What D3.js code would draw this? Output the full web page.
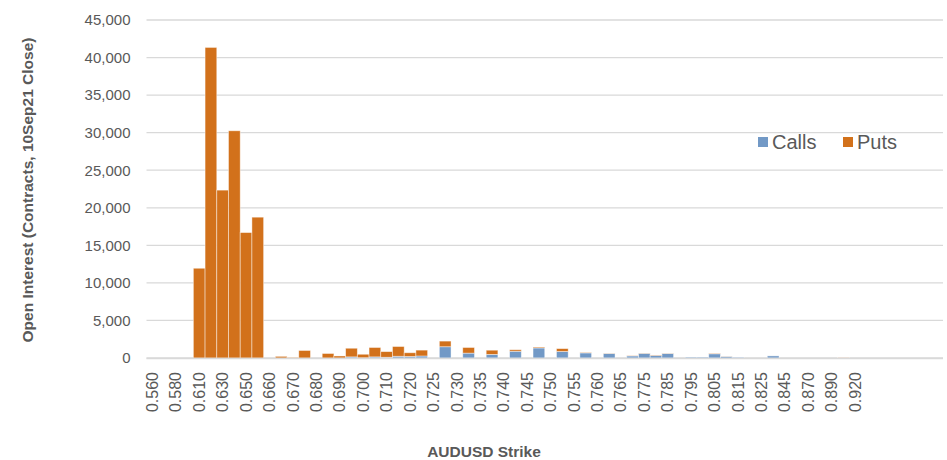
<!DOCTYPE html>
<html><head><meta charset="utf-8">
<script src="https://cdn.jsdelivr.net/npm/d3@7"></script>
<style>body{margin:0;background:#fff}svg{display:block;font-family:"Liberation Sans",Arial,sans-serif}</style>
</head><body><svg id="c" width="947" height="460"></svg>
<script>
const strikes = ["0.560","0.570","0.580","0.600","0.610","0.620","0.630","0.640","0.650","0.655",
 "0.660","0.665","0.670","0.675","0.680","0.685","0.690","0.695","0.700","0.705",
 "0.710","0.715","0.720","0.7225","0.725","0.7275","0.730","0.7325","0.735","0.7375",
 "0.740","0.7425","0.745","0.7475","0.750","0.7525","0.755","0.7575","0.760","0.7625",
 "0.765","0.770","0.775","0.780","0.785","0.790","0.795","0.800","0.805","0.810",
 "0.815","0.820","0.825","0.835","0.845","0.860","0.870","0.880","0.890","0.900",
 "0.920","","","","","","",""];
const calls = [0,0,0,0,0,0,0,0,0,0,
 0,0,0,0,0,0,0,150,30,150,
 100,230,200,270,0,1500,0,650,0,480,
 0,900,0,1340,0,870,0,680,0,600,
 0,280,620,350,600,0,120,120,560,210,
 100,0,0,280,0,0,0,0,0,50,
 0,0,0,0,0,0,0,0];
const puts = [0,0,0,0,11950,41350,22350,30250,16700,18750,
 0,220,70,1000,0,600,270,1150,470,1250,
 750,1300,500,780,0,750,0,750,0,560,
 0,200,0,120,0,380,0,60,0,30,
 0,40,30,50,30,0,0,0,60,20,
 0,0,0,0,0,0,0,0,0,40,
 0,0,0,0,0,0,0,0];
const seriesNames = ["Calls","Puts"];
const colors = ["#7299C6","#D2711B"];
const yTicks = [0,5000,10000,15000,20000,25000,30000,35000,40000,45000];

const svg = d3.select("#c");
const L = 146.5, R = 943, T = 20, B = 358;
const x = d3.scaleBand().domain(d3.range(strikes.length)).range([L, R]).padding(0);
const y = d3.scaleLinear().domain([0, 45000]).range([B, T]);

// gridlines
svg.append("g").selectAll("line").data(yTicks).join("line")
  .attr("x1", L).attr("x2", R)
  .attr("y1", d => y(d)).attr("y2", d => y(d))
  .attr("stroke", "#d9d9d9").attr("stroke-width", 1.3);

// y axis labels
const yAxis = svg.append("g").attr("transform", `translate(${L},0)`)
  .call(d3.axisLeft(y).tickValues(yTicks).tickSize(0).tickPadding(16).tickFormat(d3.format(",")));
yAxis.select(".domain").remove();
yAxis.selectAll("text").attr("fill", "#595959").style("font-size", "15px").style("font-family", '"Liberation Sans",Arial,sans-serif');

// stacked bars
const rows = strikes.map((s, i) => ({i, Calls: calls[i], Puts: puts[i]}));
const stacked = d3.stack().keys(seriesNames)(rows);
svg.append("g").selectAll("g").data(stacked).join("g")
  .attr("fill", (d, k) => colors[k])
  .selectAll("rect").data(d => d).join("rect")
  .attr("x", d => x(d.data.i))
  .attr("width", x.bandwidth())
  .attr("y", d => y(d[1]))
  .attr("height", d => Math.max(0, y(d[0]) - y(d[1])))
  .attr("stroke", "#fff").attr("stroke-width", 0.8).attr("stroke-opacity", 0.55);

// x axis line
svg.append("line").attr("x1", L).attr("x2", R).attr("y1", B + 0.5).attr("y2", B + 0.5)
  .attr("stroke", "#d9d9d9").attr("stroke-width", 1.5);

// x axis labels (every 2nd category)
const xAxis = svg.append("g").attr("transform", `translate(0,${B})`)
  .call(d3.axisBottom(x).tickValues(d3.range(0, strikes.length, 2)).tickSize(0).tickFormat(i => strikes[i]));
xAxis.select(".domain").remove();
xAxis.selectAll("text")
  .attr("fill", "#595959").style("font-size", "16px").style("font-family", '"Liberation Sans",Arial,sans-serif')
  .attr("text-anchor", "end").attr("dy", "0.35em").attr("dx", 0).attr("y", 0)
  .attr("transform", "translate(0,14) rotate(-90)");

// axis titles
svg.append("text").attr("transform", "translate(33,190) rotate(-90)")
  .attr("text-anchor", "middle").attr("fill", "#595959")
  .style("font-size", "15.5px").style("font-weight", "bold")
  .text("Open Interest (Contracts, 10Sep21 Close)");
svg.append("text").attr("x", 484).attr("y", 457).attr("text-anchor", "middle").attr("fill", "#595959")
  .style("font-size", "15.5px").style("font-weight", "bold").text("AUDUSD Strike");

// legend
const lg = svg.append("g");
const legX = [758, 843];
seriesNames.forEach((n, k) => {
  lg.append("rect").attr("x", legX[k]).attr("y", 137).attr("width", 10).attr("height", 10).attr("fill", colors[k]);
  lg.append("text").attr("x", legX[k] + 14).attr("y", 149).attr("fill", "#595959")
    .style("font-size", "20px").text(n);
});
</script></body></html>
